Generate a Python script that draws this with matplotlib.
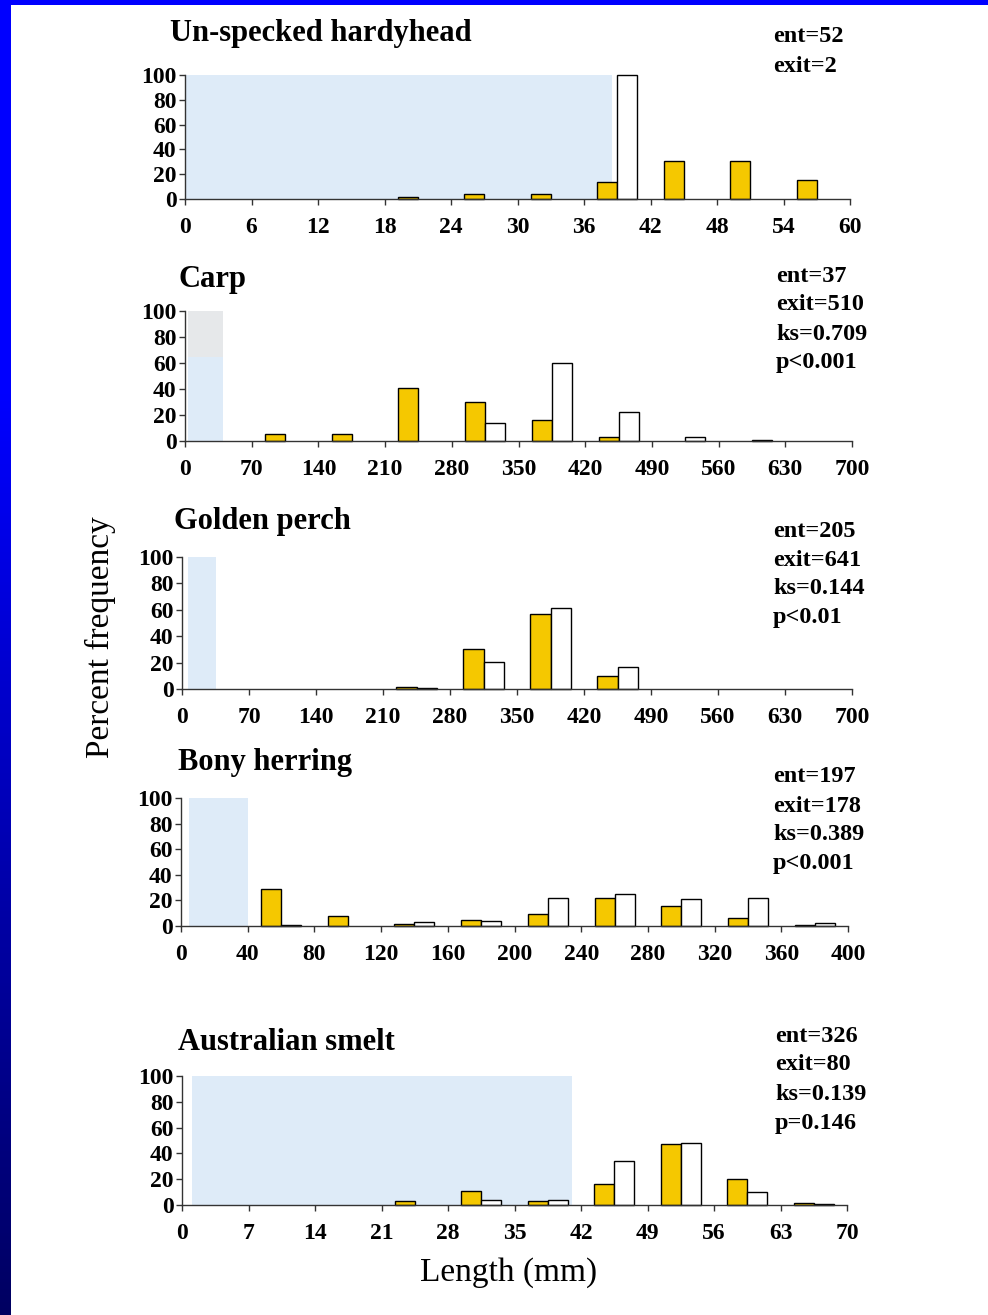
import numpy as np
import matplotlib
matplotlib.use("Agg")
import matplotlib.pyplot as plt
from matplotlib.patches import Rectangle

plt.rcParams['font.family'] = ['Liberation Serif', 'DejaVu Serif']

W, H = 988, 1315

# ---------------- data ----------------
titles = ["Un-specked hardyhead", "Carp", "Golden perch", "Bony herring", "Australian smelt"]
stats = [["ent=52", "exit=2"],
         ["ent=37", "exit=510", "ks=0.709", "p<0.001"],
         ["ent=205", "exit=641", "ks=0.144", "p<0.01"],
         ["ent=197", "exit=178", "ks=0.389", "p<0.001"],
         ["ent=326", "exit=80", "ks=0.139", "p=0.146"]]

# bin centres
hh_bins = [21, 27, 33, 39, 45, 51, 57]
hh_ent = [1.9, 3.8, 3.8, 13.5, 30.8, 30.8, 15.4]
hh_exit = [0, 0, 0, 100, 0, 0, 0]
hh_ticks = [0, 6, 12, 18, 24, 30, 36, 42, 48, 54, 60]

carp_bins = [105, 175, 245, 315, 385, 455, 525, 595]
carp_ent = [5.4, 5.4, 40.5, 29.7, 16.2, 2.7, 0, 0]
carp_exit = [0, 0, 0, 13.5, 60, 22.5, 3, 1]
carp_ticks = [0, 70, 140, 210, 280, 350, 420, 490, 560, 630, 700]

gp_bins = [245, 315, 385, 455]
gp_ent = [1.5, 30.2, 57.1, 9.8]
gp_exit = [0.5, 20.5, 61, 16.5]
gp_ticks = [0, 70, 140, 210, 280, 350, 420, 490, 560, 630, 700]

bh_bins = [60, 100, 140, 180, 220, 260, 300, 340, 380]
bh_ent = [29, 8, 1.5, 5, 9.5, 22, 16, 6.5, 0.5]
bh_exit = [1, 0, 3, 4, 22, 25, 21, 22, 2.5]
bh_ticks = [0, 40, 80, 120, 160, 200, 240, 280, 320, 360, 400]

sm_bins = [24.5, 31.5, 38.5, 45.5, 52.5, 59.5, 66.5]
sm_ent = [3, 10.5, 3, 16, 47, 20, 1.5]
sm_exit = [0, 4, 4, 34, 48, 10, 0.5]
sm_ticks = [0, 7, 14, 21, 28, 35, 42, 49, 56, 63, 70]

y_ticks = [0, 20, 40, 60, 80, 100]

panels = [
    (hh_bins, hh_ent, hh_exit, hh_ticks, 6),
    (carp_bins, carp_ent, carp_exit, carp_ticks, 70),
    (gp_bins, gp_ent, gp_exit, gp_ticks, 70),
    (bh_bins, bh_ent, bh_exit, bh_ticks, 40),
    (sm_bins, sm_ent, sm_exit, sm_ticks, 7),
]

# ---------------- layout (pixels) ----------------
boxes = [(185, 850, 199, 75), (185, 852, 441, 311), (182, 852, 689, 557),
         (181, 848, 926, 798), (182, 847, 1205, 1076)]
title_pos = [(170, 34), (178, 279), (174, 522), (178, 762), (178, 1042)]
stat_pos = [(773, 37), (776, 276), (773, 531), (773, 777), (775, 1036)]
shades = [(0, 38.5), (3, 40), (6, 36), (5, 40), (1, 41)]

YELLOW = '#F5C800'
SHADE = '#DEEBF8'

fig = plt.figure(figsize=(W / 100, H / 100), dpi=100)
fig.patch.set_facecolor('white')

def fx(x):
    return x / W

def fy(y):
    return 1 - y / H

# left gradient strip
gax = fig.add_axes([0, 0, 11 / W, 1])
rows = np.linspace(0, 1, 400)
blue = np.where(rows < 0.3, 1.0, 1.0 - (rows - 0.3) / 0.7 * 0.62)
grad = np.zeros((400, 1, 3))
grad[:, 0, 2] = blue
gax.imshow(grad, aspect='auto', extent=[0, 1, 0, 1], origin='upper')
gax.axis('off')
fig.patches.append(Rectangle((0, fy(5)), 1, 5 / H, transform=fig.transFigure,
                             facecolor='#0000FF', edgecolor='none', zorder=5))

for i, (bins, ent, ext, ticks, bw) in enumerate(panels):
    l, r, y0, y100 = boxes[i]
    ax = fig.add_axes([fx(l), fy(y0), (r - l) / W, (y0 - y100) / H])
    ax.set_xlim(ticks[0], ticks[-1])
    ax.set_ylim(0, 100)
    s0, s1 = shades[i]
    if i == 1:
        ax.axvspan(s0, s1, ymin=0, ymax=0.65, color=SHADE, lw=0, zorder=0)
        ax.axvspan(s0, s1, ymin=0.65, ymax=1.0, color='#E6E8EA', lw=0, zorder=0)
    else:
        ax.axvspan(s0, s1, ymin=0, ymax=1.0, color=SHADE, lw=0, zorder=0)
    w = 0.3 * bw
    b = np.array(bins, dtype=float)
    e = np.array(ent, dtype=float)
    x = np.array(ext, dtype=float)
    me = e > 0
    mx = x > 0
    ax.bar(b[me] - w / 2, e[me], width=w, color=YELLOW, edgecolor='black', linewidth=1.0,
           zorder=3, clip_on=False)
    ax.bar(b[mx] + w / 2, x[mx], width=w, color='white', edgecolor='black', linewidth=1.0,
           zorder=3, clip_on=False)
    for sp in ['top', 'right']:
        ax.spines[sp].set_visible(False)
    for sp in ['left', 'bottom']:
        ax.spines[sp].set_color('#333333')
        ax.spines[sp].set_linewidth(1.0)
        ax.spines[sp].set_zorder(4)
    ax.set_facecolor('none')
    ax.set_xticks(ticks)
    ax.set_xticklabels([str(t) for t in ticks], fontsize=17, fontweight='bold')
    ax.set_yticks(y_ticks)
    ax.set_yticklabels([str(t) for t in y_ticks], fontsize=17, fontweight='bold')
    ax.tick_params(axis='both', direction='out', length=4, width=1, color='#333333', pad=2)
    ax.tick_params(axis='x', pad=9)
    tx, ty = title_pos[i]
    fig.text(fx(tx), fy(ty), titles[i], fontsize=22, fontweight='bold',
             ha='left', va='center')
    sx, sy = stat_pos[i]
    for k, line in enumerate(stats[i]):
        fig.text(fx(sx), fy(sy + 29 * k), line, fontsize=17.5, fontweight='bold',
                 ha='left', va='center')

fig.text(fx(100), fy(637), "Percent frequency", fontsize=24, rotation=90,
         ha='center', va='center')
fig.text(fx(509), fy(1273), "Length (mm)", fontsize=24, ha='center', va='center')

fig.savefig('out.png', dpi=100, facecolor='white')
